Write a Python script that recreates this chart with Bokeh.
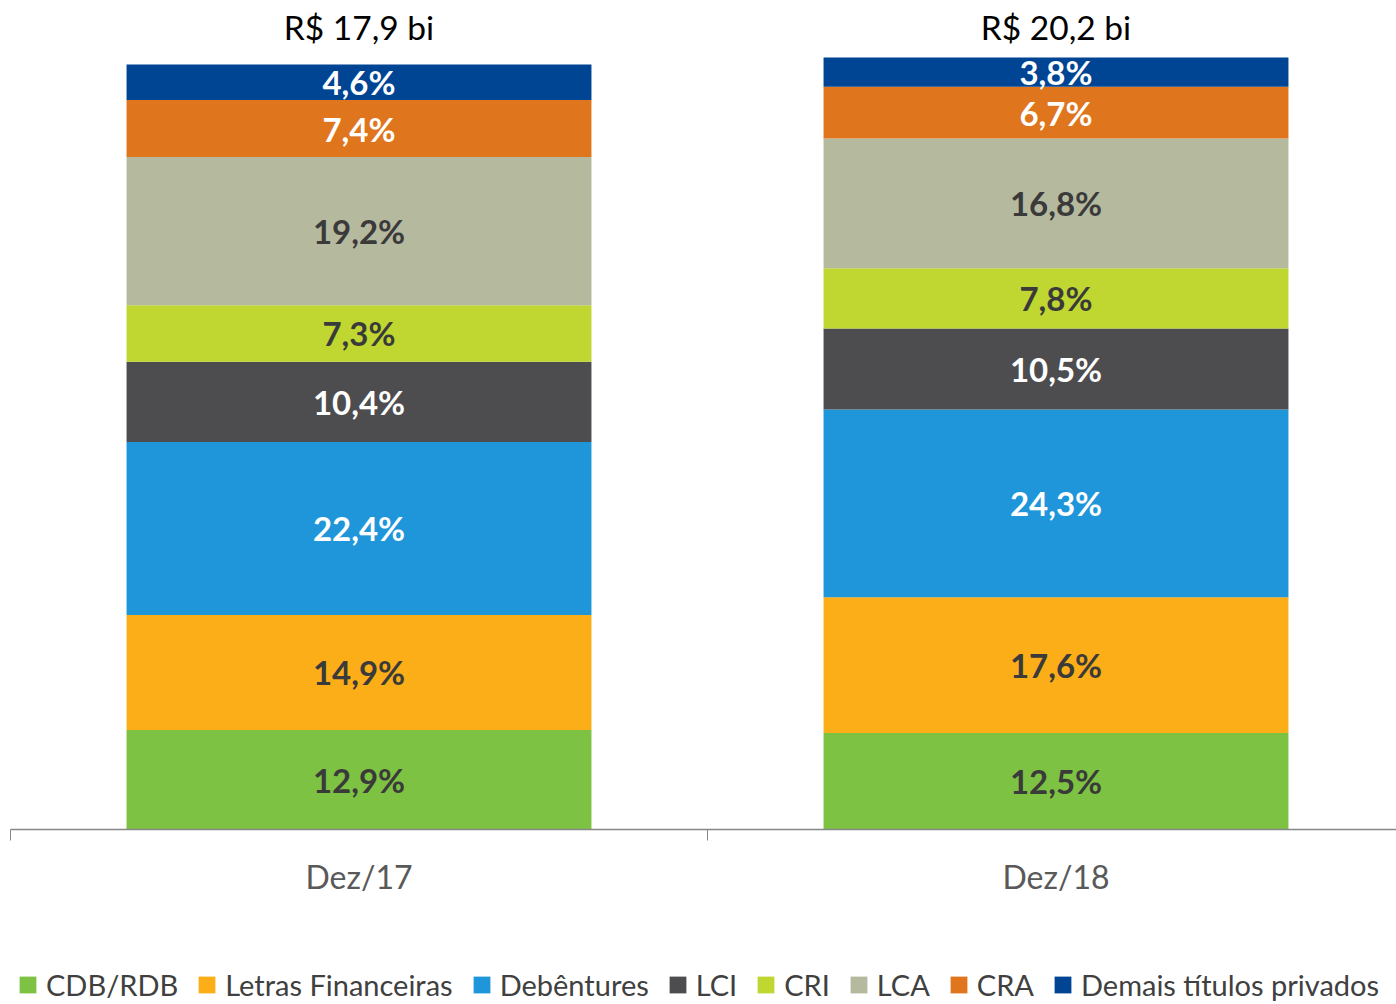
from bokeh.plotting import figure
from bokeh.layouts import column
from bokeh.models import ColumnDataSource, Range1d, FixedTicker, Legend, LegendItem
from bokeh.core.properties import value
from bokeh.embed import file_html
from bokeh.resources import INLINE

# ---- data ----
periods = ["Dez/17", "Dez/18"]
totals = ["R$ 17,9 bi", "R$ 20,2 bi"]
series = ["CDB/RDB", "Letras Financeiras", "Debêntures", "LCI", "CRI", "LCA", "CRA",
          "Demais títulos privados"]
cdb_rdb = [12.9, 12.5]
letras_financeiras = [14.9, 17.6]
debentures = [22.4, 24.3]
lci = [10.4, 10.5]
cri = [7.3, 7.8]
lca = [19.2, 16.8]
cra = [7.4, 6.7]
demais = [4.6, 3.8]

colors = ["#7DC242", "#FBAE17", "#1F95DA", "#4D4D4F", "#BFD730", "#B5B99E", "#DF761E", "#004494"]
label_colors = ["#3a3a3a", "#3a3a3a", "#ffffff", "#ffffff", "#3a3a3a", "#3a3a3a", "#ffffff", "#ffffff"]

values = [cdb_rdb, letras_financeiras, debentures, lci, cri, lca, cra, demais]
keys = [f"s{j}" for j in range(len(series))]
xs = [i + 0.5 for i in range(len(periods))]

data = {"x": xs}
for k, v in zip(keys, values):
    data[k] = v
src = ColumnDataSource(data)

FONT = "Lato"
PX_PER_UNIT = 7.72
FRAME_H = 829
FRAME_W = 1386
CAT_W = 697
MAIN_H = 960
LEG_H = 1004 - MAIN_H

p = figure(width=1396, height=MAIN_H, output_backend="svg", toolbar_location=None,
           x_range=Range1d(0, FRAME_W / CAT_W), y_range=Range1d(0, FRAME_H / PX_PER_UNIT),
           y_axis_location=None, min_border_left=10, min_border_right=0,
           min_border_top=0, min_border_bottom=MAIN_H - FRAME_H)
p.outline_line_color = None
p.grid.visible = False
p.background_fill_color = "white"

renderers = p.vbar_stack(keys, x="x", width=0.667, source=src,
                         fill_color=colors, line_color=None)

# segment labels
lx, ly, lt, lc = [], [], [], []
for i in range(len(periods)):
    base = 0.0
    for j in range(len(series)):
        v = values[j][i]
        lx.append(xs[i])
        ly.append(base + v / 2)
        lt.append(f"{v:.1f}".replace(".", ",") + "%")
        lc.append(label_colors[j])
        base += v
lsrc = ColumnDataSource(dict(x=lx, y=ly, t=lt, c=lc))
p.text(x="x", y="y", text="t", text_color="c", source=lsrc, text_font=value(FONT),
       text_font_style="bold", text_font_size="33px", text_align="center",
       text_baseline="middle")

# totals above bars
tsrc = ColumnDataSource(dict(x=xs, y=[103.9] * len(xs), t=totals))
p.text(x="x", y="y", text="t", source=tsrc, text_color="#000000", text_font=value(FONT),
       text_font_size="33.5px", text_align="center", text_baseline="middle")

# x axis
ax = p.xaxis[0]
ax.ticker = FixedTicker(ticks=xs, minor_ticks=[float(i) for i in range(len(periods) + 1)])
ax.major_label_overrides = {x: lab for x, lab in zip(xs, periods)}
ax.major_tick_in = 0
ax.major_tick_out = 0
ax.minor_tick_in = 0
ax.minor_tick_out = 11
ax.minor_tick_line_color = "#868686"
ax.axis_line_color = "#868686"
ax.axis_line_width = 1.3
ax.major_label_text_font = FONT
ax.major_label_text_font_size = "32px"
ax.major_label_text_color = "#595959"
ax.major_label_standoff = 16

# legend strip (same stacked series, hidden, only used for the legend swatches)
lp = figure(width=1396, height=LEG_H, output_backend="svg", toolbar_location=None,
            x_axis_location=None, y_axis_location=None, min_border=0,
            x_range=Range1d(0, 1), y_range=Range1d(0, 1))
lp.outline_line_color = None
lp.grid.visible = False
leg_rs = lp.vbar_stack(keys, x="x", width=0.667, source=src, fill_color=colors, line_color=None)
for r in leg_rs:
    r.visible = False
legend = Legend(items=[LegendItem(label=s, renderers=[r]) for s, r in zip(series, leg_rs)],
                orientation="horizontal", location=(7, 2),
                glyph_width=21, glyph_height=21, label_standoff=8, spacing=18,
                padding=0, margin=0, border_line_color=None, background_fill_alpha=0,
                label_text_font=FONT, label_text_font_size="29px", label_text_color="#404040")
lp.add_layout(legend, "center")

layout = column(p, lp, spacing=0)
open("out.html", "w").write(file_html(layout, INLINE))
